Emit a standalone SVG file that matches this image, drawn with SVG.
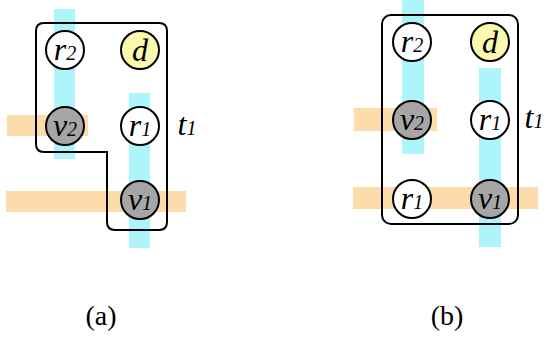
<svg xmlns="http://www.w3.org/2000/svg" width="547" height="337" viewBox="0 0 547 337">
<style>
.cy{fill:#aef4fb}
.or{fill:#fddcab}
.n{stroke:#000;stroke-width:2}
.w{fill:#fff}
.g{fill:#a6a6a6}
.y{fill:#fbf8b0}
.box{fill:none;stroke:#000;stroke-width:2}
</style>
<g id="bands">
<rect class="cy" x="54" y="9" width="21" height="150"/>
<rect class="cy" x="129" y="93" width="21" height="155"/>
<rect class="or" x="7" y="115" width="81" height="21"/>
<rect class="or" x="6" y="191" width="180" height="21"/>
<rect class="cy" x="402" y="0" width="22" height="154"/>
<rect class="cy" x="479" y="68" width="22" height="179"/>
<rect class="or" x="354" y="108" width="83" height="23"/>
<rect class="or" x="353" y="187" width="185" height="22"/>
</g>
<g id="connectors">
<path class="box" d="M44,23 H159 Q167,23 167,31 V222 Q167,230 159,230 H115 Q107,230 107,222 V152 H44 Q36,152 36,144 V31 Q36,23 44,23 Z"/>
<rect class="box" x="382" y="15" width="136" height="209" rx="9"/>
</g>
<g font-family="Liberation Serif, serif" font-style="italic" font-size="32" text-anchor="middle">
<g id="a-r2"><circle class="n w" cx="65" cy="50" r="19"/><text x="65" y="60">r<tspan font-size="20">2</tspan></text></g>
<g id="a-d"><circle class="n y" cx="140" cy="50" r="19"/><text x="140" y="61">d</text></g>
<g id="a-v2"><circle class="n g" cx="65" cy="126" r="19"/><text x="65" y="136">v<tspan font-size="20">2</tspan></text></g>
<g id="a-r1"><circle class="n w" cx="140" cy="126" r="19"/><text x="140" y="136">r<tspan font-size="20">1</tspan></text></g>
<g id="a-v1"><circle class="n g" cx="140" cy="200" r="19"/><text x="140" y="210">v<tspan font-size="20">1</tspan></text></g>
<g id="a-t1"><text x="187" y="135">t<tspan font-size="20">1</tspan></text></g>
<g id="b-r2"><circle class="n w" cx="412" cy="42" r="19"/><text x="412" y="52">r<tspan font-size="20">2</tspan></text></g>
<g id="b-d"><circle class="n y" cx="490" cy="42" r="19"/><text x="490" y="53">d</text></g>
<g id="b-v2"><circle class="n g" cx="412" cy="120" r="19"/><text x="412" y="130">v<tspan font-size="20">2</tspan></text></g>
<g id="b-r1"><circle class="n w" cx="490" cy="120" r="19"/><text x="490" y="130">r<tspan font-size="20">1</tspan></text></g>
<g id="b-r1b"><circle class="n w" cx="412" cy="199" r="19"/><text x="412" y="209">r<tspan font-size="20">1</tspan></text></g>
<g id="b-v1"><circle class="n g" cx="490" cy="199" r="19"/><text x="490" y="209">v<tspan font-size="20">1</tspan></text></g>
<g id="b-t1"><text x="534" y="128">t<tspan font-size="20">1</tspan></text></g>
</g>
<g id="captions" font-family="Liberation Serif, serif" font-size="28" text-anchor="middle">
<text x="101" y="325">(a)</text>
<text x="447" y="325">(b)</text>
</g>
</svg>
